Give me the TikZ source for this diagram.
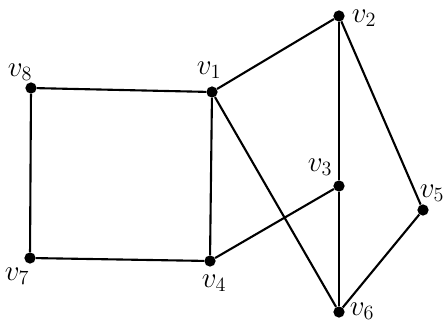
\documentclass[tikz,border=0pt]{standalone}
\usepackage{amsmath, amssymb}
\usepackage{xcolor}
\usetikzlibrary{arrows.meta, positioning}

\tikzset{
  vtx/.style={circle, fill=black, inner sep=0pt, minimum size=8pt},
  vlab/.style={font=\huge, inner sep=0pt},
  edge/.style={line width=1.5pt}
}

\begin{document}
\begin{tikzpicture}[x=0.025cm, y=-0.025cm]

\useasboundingbox (0, 0) rectangle (444, 322);

% Vertices
\node[vtx] (v1) at (212, 92) {};
\node[vtx] (v2) at (339, 16) {};
\node[vtx] (v3) at (339, 186) {};
\node[vtx] (v4) at (210, 261) {};
\node[vtx] (v5) at (423, 210) {};
\node[vtx] (v6) at (339, 312) {};
\node[vtx] (v7) at (30, 258) {};
\node[vtx] (v8) at (31, 88) {};

% Vertex labels
\node[vlab] (l1) at (209, 70) {$v_1$};
\node[vlab] (l2) at (364, 18) {$v_2$};
\node[vlab] (l3) at (320, 167) {$v_3$};
\node[vlab] (l4) at (214, 283) {$v_4$};
\node[vlab] (l5) at (432, 193) {$v_5$};
\node[vlab] (l6) at (362, 311) {$v_6$};
\node[vlab] (l7) at (17, 276) {$v_7$};
\node[vlab] (l8) at (20, 72) {$v_8$};

% Square on the left
\draw[edge] (v8) -- (v1) -- (v4) -- (v7) -- (v8);

% Edges to the right
\draw[edge] (v1) -- (v2);
\draw[edge] (v1) -- (v6);
\draw[edge] (v4) -- (v3);
\draw[edge] (v2) -- (v3) -- (v6);
\draw[edge] (v2) -- (v5) -- (v6);

\end{tikzpicture}
\end{document}
